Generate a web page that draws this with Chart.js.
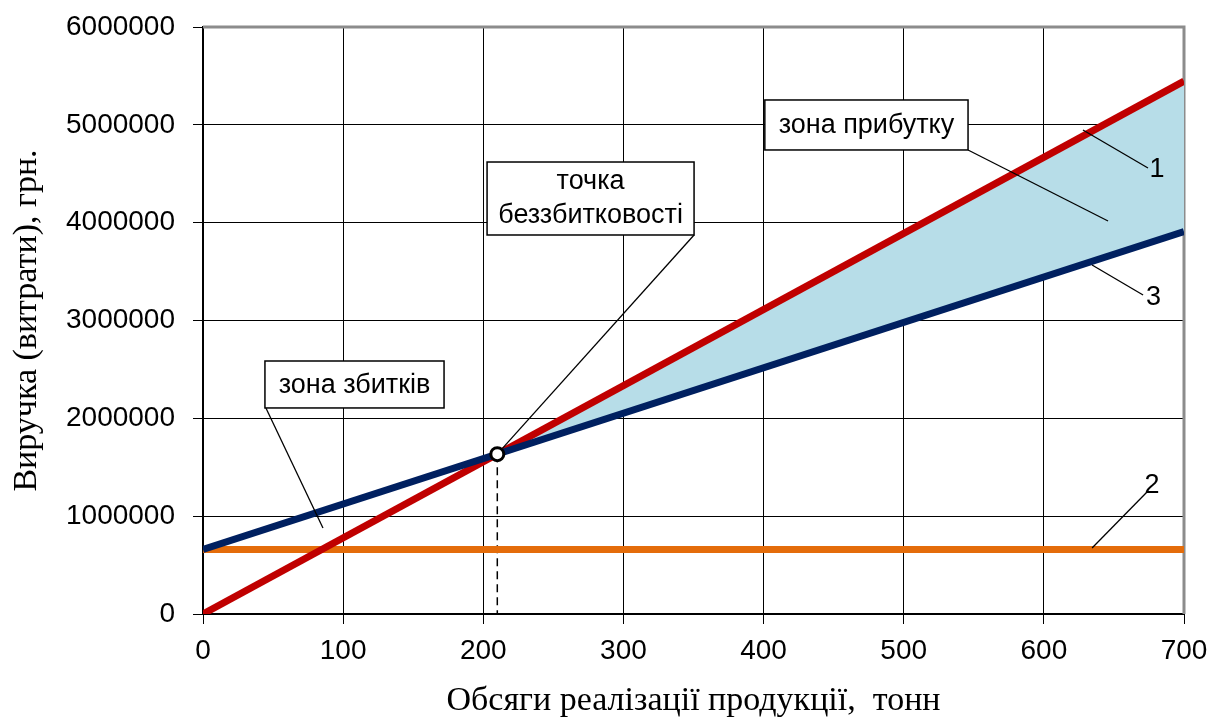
<!DOCTYPE html>
<html>
<head>
<meta charset="utf-8">
<script src="https://cdn.jsdelivr.net/npm/chart.js@4.4.1/dist/chart.umd.min.js"></script>
<style>
  html, body { margin: 0; padding: 0; background: #fff; }
  canvas { display: block; }
</style>
</head>
<body>
<canvas id="c" width="1211" height="718"></canvas>
<script>
// Volume of sales (tonnes) and the money lines over it (UAH)
const volume = [0, 700];
const revenue = [0, 5446000];          // line 1
const fixedCost = [660000, 660000];    // line 2
const totalCost = [660000, 3908000];   // line 3
const breakEven = [{ x: 210, y: 1634000 }];

const xTickValues = [0, 100, 200, 300, 400, 500, 600, 700];
const yTickValues = [0, 1000000, 2000000, 3000000, 4000000, 5000000, 6000000];

const xTitle = 'Обсяги реалізації продукції,  тонн';
const yTitle = 'Виручка (витрати), грн.';

// Callout boxes: corners and leader lines in data units
const calloutBoxes = [
  { lines: ['зона прибутку'], x0: 400.9, y0: 5254000, x1: 545.9, y1: 4743000,
    from: [545.9, 4743000], to: [645.8, 4017000], baselines: [33] },
  { lines: ['точка', 'беззбитковості'], x0: 202.7, y0: 4620000, x1: 350.4, y1: 3874000,
    from: [350.4, 3874000], toMarker: true, baselines: [27, 61] },
  { lines: ['зона збитків'], x0: 44.2, y0: 2586000, x1: 172.0, y1: 2106000,
    from: [44.9, 2106000], to: [85.6, 879000], baselines: [32] }
];

// Numbered tags for the lines
const lineTags = [
  { text: '1', from: [627.9, 4947000], to: [674.3, 4559000], at: [680.7, 4467000] },
  { text: '3', from: [634.4, 3567000], to: [670.8, 3261000], at: [678.2, 3159000] },
  { text: '2', from: [634.4, 675000],  to: [673.6, 1247000], at: [677.2, 1237000] }
];

const pts = (ys) => volume.map((v, i) => ({ x: v, y: ys[i] }));

const SANS = '"Liberation Sans", Arial, sans-serif';
const SERIF = '"Liberation Serif", "Times New Roman", serif';

const decorations = {
  id: 'decorations',
  beforeDatasetsDraw(chart) {
    const { ctx, chartArea: a, scales: { x, y } } = chart;
    ctx.save();
    // grey frame on top and right
    ctx.strokeStyle = '#8c8c8c';
    ctx.lineWidth = 3;
    ctx.beginPath();
    ctx.moveTo(a.left, a.top);
    ctx.lineTo(a.right, a.top);
    ctx.lineTo(a.right, a.bottom);
    ctx.stroke();
    // dashed drop line from the break-even point
    const bx = x.getPixelForValue(breakEven[0].x);
    const by = y.getPixelForValue(breakEven[0].y);
    ctx.strokeStyle = '#000';
    ctx.lineWidth = 1.5;
    ctx.setLineDash([8, 5]);
    ctx.beginPath();
    ctx.moveTo(bx, by);
    ctx.lineTo(bx, a.bottom);
    ctx.stroke();
    ctx.restore();
  },
  afterDatasetsDraw(chart) {
    const { ctx, scales: { x, y } } = chart;
    const P = (p) => [x.getPixelForValue(p[0]), y.getPixelForValue(p[1])];
    ctx.save();
    ctx.strokeStyle = '#000';
    ctx.fillStyle = '#000';
    ctx.lineWidth = 1.3;

    // line tags 1, 2, 3
    ctx.font = '27px ' + SANS;
    ctx.textAlign = 'center';
    ctx.textBaseline = 'alphabetic';
    lineTags.forEach(t => {
      const [ax, ay] = P(t.from), [bx, by] = P(t.to);
      ctx.beginPath(); ctx.moveTo(ax, ay); ctx.lineTo(bx, by); ctx.stroke();
      const [tx, ty] = P(t.at);
      ctx.fillText(t.text, tx, ty);
    });

    // callout boxes
    const mx = x.getPixelForValue(breakEven[0].x);
    const my = y.getPixelForValue(breakEven[0].y);
    calloutBoxes.forEach(b => {
      const [fx, fy] = P(b.from);
      let tx, ty;
      if (b.toMarker) {
        const dx = fx - mx, dy = fy - my, d = Math.hypot(dx, dy);
        tx = mx + dx / d * 8; ty = my + dy / d * 8;
      } else {
        [tx, ty] = P(b.to);
      }
      ctx.lineWidth = 1.3;
      ctx.beginPath(); ctx.moveTo(fx, fy); ctx.lineTo(tx, ty); ctx.stroke();

      const [x0, y0] = P([b.x0, b.y0]), [x1, y1] = P([b.x1, b.y1]);
      ctx.fillStyle = '#fff';
      ctx.fillRect(x0, y0, x1 - x0, y1 - y0);
      ctx.lineWidth = 1.5;
      ctx.strokeRect(x0, y0, x1 - x0, y1 - y0);
      ctx.fillStyle = '#000';
      ctx.font = '27px ' + SANS;
      ctx.textAlign = 'center';
      b.lines.forEach((s, i) => ctx.fillText(s, (x0 + x1) / 2, y0 + b.baselines[i]));
    });
    ctx.restore();
  }
};

new Chart(document.getElementById('c'), {
  type: 'line',
  data: {
    datasets: [
      { label: 'Виручка', data: pts(revenue), borderColor: '#c00000', borderWidth: 7,
        pointRadius: 0, order: 1, fill: { target: 1, above: '#b7dde8', below: 'rgba(0,0,0,0)' } },
      { label: 'Сукупні витрати', data: pts(totalCost), borderColor: '#002060', borderWidth: 7,
        pointRadius: 0, order: 0, fill: false },
      { label: 'Постійні витрати', data: pts(fixedCost), borderColor: '#e46c0a', borderWidth: 7,
        pointRadius: 0, order: 2, fill: false },
      { label: 'Точка беззбитковості', data: breakEven, showLine: false, pointRadius: 6.5,
        pointBackgroundColor: '#fff', pointBorderColor: '#000', pointBorderWidth: 3, order: -1 }
    ]
  },
  options: {
    responsive: false,
    animation: false,
    devicePixelRatio: 1,
    layout: { padding: { top: 27, right: 27, left: 0, bottom: 0 } },
    plugins: { legend: { display: false }, tooltip: { enabled: false } },
    scales: {
      x: {
        type: 'linear', min: 0, max: 700,
        afterBuildTicks: s => { s.ticks = xTickValues.map(v => ({ value: v })); },
        afterFit: s => { s.height = 104; s.paddingLeft = 0; s.paddingRight = 0; },
        grid: { color: '#000', lineWidth: 1, tickLength: 10, drawTicks: true },
        border: { color: '#000', width: 2 },
        ticks: { color: '#000', padding: 10, maxRotation: 0, font: { family: SANS, size: 28 },
                 callback: v => String(v) },
        title: { display: true, text: xTitle, color: '#000', padding: { top: 0, bottom: 0 },
                 font: { family: SERIF, size: 34, lineHeight: 1.0 } }
      },
      y: {
        type: 'linear', min: 0, max: 6000000,
        afterBuildTicks: s => { s.ticks = yTickValues.map(v => ({ value: v })); },
        afterFit: s => { s.width = 203; s.paddingTop = 0; s.paddingBottom = 0; },
        grid: { color: '#000', lineWidth: 1, tickLength: 10, drawTicks: true },
        border: { color: '#000', width: 2 },
        ticks: { color: '#000', padding: 18, font: { family: SANS, size: 28 },
                 callback: v => String(v) },
        title: { display: true, text: yTitle, color: '#000', padding: { top: 7, bottom: 0 },
                 font: { family: SERIF, size: 34, lineHeight: 1.2 } }
      }
    }
  },
  plugins: [decorations]
});
</script>
</body>
</html>
